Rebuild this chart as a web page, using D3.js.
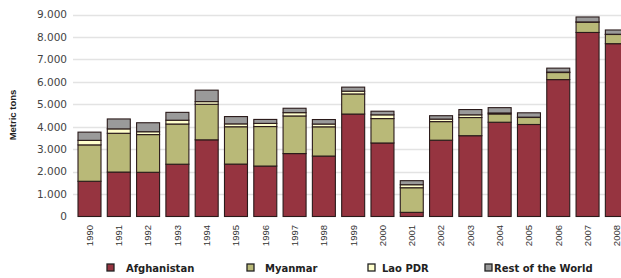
<!DOCTYPE html>
<html>
<head>
<meta charset="utf-8">
<script src="https://cdn.jsdelivr.net/npm/d3@7"></script>
<style>
  body { margin: 0; background: #fff; }
  svg { display: block; font-family: "Liberation Sans", Arial, sans-serif; }
</style>
</head>
<body>
<div id="grafico"></div>
<script>
// anos e series (toneladas metricas)
const anos = ['1990','1991','1992','1993','1994','1995','1996','1997','1998','1999',
              '2000','2001','2002','2003','2004','2005','2006','2007','2008'];
const afghanistan = [1570,1980,1970,2330,3416,2335,2248,2804,2693,4565,3276,185,3400,3600,4200,4100,6100,8200,7700];
const myanmar     = [1621,1728,1680,1791,1583,1664,1760,1676,1303,895,1087,1097,828,810,370,312,315,460,410];
const lao         = [202,196,127,169,120,128,140,147,124,124,167,134,112,120,43,14,20,9,10];
const resto       = [366,442,400,350,510,325,177,196,200,180,161,180,151,235,237,194,175,221,190];
const series = ['Afghanistan','Myanmar','Lao PDR','Rest of the World'];
const cores = ['#963440','#b9b978','#ffffcc','#9a9a9a'];
const yTicks = [0,1000,2000,3000,4000,5000,6000,7000,8000,9000];

const largura = 621, altura = 278;

const svg = d3.select('#grafico').append('svg')
  .attr('width', largura)
  .attr('height', altura);

const tabela = anos.map((a, i) => ({
  ano: a,
  'Afghanistan': afghanistan[i],
  'Myanmar': myanmar[i],
  'Lao PDR': lao[i],
  'Rest of the World': resto[i]
}));

const pilha = d3.stack().keys(series)(tabela);

const x = d3.scaleBand().domain(anos).range([74.85, 631.5]).paddingInner(0.215).paddingOuter(0.1075);
const y = d3.scaleLinear().domain([0, 9000]).range([216.5, 14.5]);
const cor = d3.scaleOrdinal().domain(series).range(cores);

const fmt = v => d3.format(',')(v).replace(/,/g, '.');

// grade
svg.append('g')
  .selectAll('line')
  .data(yTicks.slice(1))
  .join('line')
  .attr('x1', 73).attr('x2', largura)
  .attr('y1', d => Math.round(y(d)) + 0.5)
  .attr('y2', d => Math.round(y(d)) + 0.5)
  .attr('stroke', '#e3e3e3')
  .attr('stroke-width', 1.5);

// eixo Y
const eixoY = svg.append('g')
  .attr('transform', 'translate(68,0)')
  .call(d3.axisLeft(y).tickValues(yTicks).tickFormat(fmt).tickSize(0).tickPadding(1));
eixoY.select('.domain').remove();
eixoY.selectAll('text')
  .attr('fill', '#444')
  .style('font-family', '"DejaVu Sans", sans-serif')
  .style('font-size', '10.5px');

// barras
svg.append('g')
  .selectAll('g')
  .data(pilha)
  .join('g')
  .attr('fill', d => cor(d.key))
  .selectAll('rect')
  .data(d => d)
  .join('rect')
  .attr('x', d => x(d.data.ano))
  .attr('y', d => y(d[1]))
  .attr('width', x.bandwidth())
  .attr('height', d => y(d[0]) - y(d[1]))
  .attr('stroke', '#2a1a1a')
  .attr('stroke-width', 1.1);

// eixo X
const eixoX = svg.append('g')
  .attr('transform', 'translate(0,217)')
  .call(d3.axisBottom(x).tickSize(0).tickPadding(0));
eixoX.select('.domain').remove();
eixoX.selectAll('text')
  .attr('transform', 'rotate(-90)')
  .attr('text-anchor', 'end')
  .attr('x', -8)
  .attr('y', 0)
  .attr('dy', '0.35em')
  .attr('fill', '#333')
  .style('font-size', '9.5px');

// titulo do eixo Y
svg.append('text')
  .attr('transform', 'translate(16,115) rotate(-90)')
  .attr('text-anchor', 'middle')
  .style('font-size', '9.5px')
  .style('font-weight', 'bold')
  .attr('fill', '#222')
  .text('Metric tons');

// legenda
const legPos = [107, 247, 368, 485];
const legTxt = [126, 265, 382, 494];
const leg = svg.append('g');
series.forEach((s, i) => {
  leg.append('rect')
    .attr('x', legPos[i]).attr('y', 264)
    .attr('width', 7).attr('height', 7)
    .attr('fill', cores[i])
    .attr('stroke', '#222')
    .attr('stroke-width', 1.3);
  leg.append('text')
    .attr('x', legTxt[i]).attr('y', 272)
    .style('font-family', '"DejaVu Sans", sans-serif')
    .style('font-size', '10px')
    .style('font-weight', 'bold')
    .attr('fill', '#222')
    .text(s);
});
</script>
</body>
</html>
